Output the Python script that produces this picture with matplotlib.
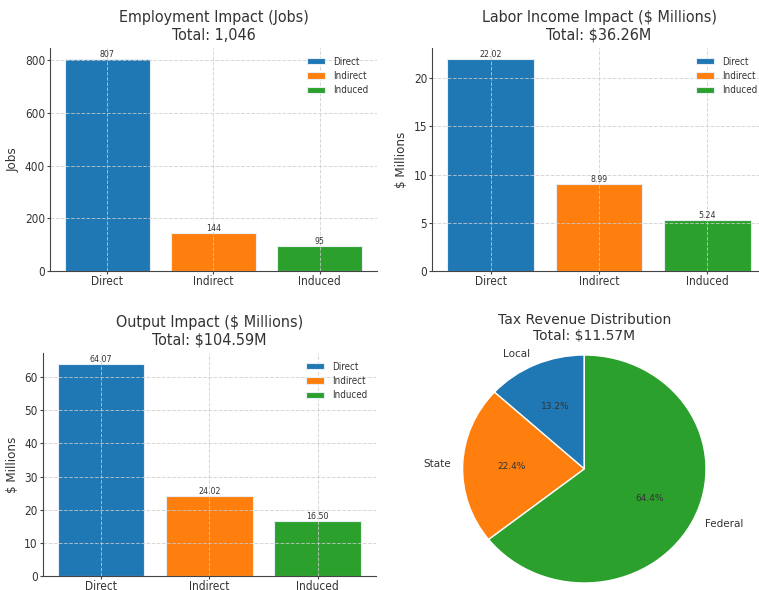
import matplotlib
matplotlib.use("Agg")
import matplotlib.pyplot as plt
from matplotlib import font_manager as fm
from matplotlib.font_manager import FontProperties

# ---------------- data ----------------
categories = ["Direct", "Indirect", "Induced"]
jobs = [807, 144, 95]
labor_income = [22.02, 8.99, 5.24]
output_impact = [64.07, 24.02, 16.50]
tax_labels = ["Local", "State", "Federal"]
tax_values = [1.53, 2.59, 7.45]

colors = ["#1f77b4", "#ff7f0e", "#2ca02c"]
TXT = "#333333"

# condensed font for bar panels if available
cond_path = None
for f in fm.fontManager.ttflist:
    base = f.fname.split("/")[-1]
    if base == "DejaVuSansCondensed.ttf":
        cond_path = f.fname
        break


def cf(size):
    if cond_path:
        return FontProperties(fname=cond_path, size=size)
    return FontProperties(family="DejaVu Sans", size=size * 0.9)


fig = plt.figure(figsize=(7.59, 5.9), dpi=100)
W, H = 759, 590


def px_axes(left, top, right, bottom):
    return fig.add_axes([left / W, 1 - bottom / H, (right - left) / W, (bottom - top) / H])


def bar_panel(ax, values, title, ylabel, fmt):
    bars = ax.bar(categories, values, color=colors, edgecolor="#e8eef5",
                  linewidth=0.8, label=categories)
    for b, v in zip(bars, values):
        ax.text(b.get_x() + b.get_width() / 2, b.get_height(), fmt(v),
                ha="center", va="bottom", fontproperties=cf(6.3), color=TXT)
    ax.set_title(title, fontproperties=cf(11.5), color=TXT, pad=6)
    ax.set_ylabel(ylabel, fontproperties=cf(9.5), color=TXT, labelpad=4)
    ax.grid(True, linestyle="--", color="#cccccc", linewidth=0.7, alpha=0.8)
    for s in ("top", "right"):
        ax.spines[s].set_visible(False)
    for s in ("left", "bottom"):
        ax.spines[s].set_color("#444444")
    ax.tick_params(colors="#444444", length=2)
    ax.tick_params(axis="x", pad=1)
    ax.tick_params(axis="y", pad=1.5)
    for lab in ax.get_xticklabels() + ax.get_yticklabels():
        lab.set_fontproperties(cf(8.5))
        lab.set_color(TXT)
    leg = ax.legend(frameon=False, loc="upper right", prop=cf(7),
                    handlelength=1.9, handleheight=0.62, labelspacing=0.43)
    for t in leg.get_texts():
        t.set_color(TXT)


ax1 = px_axes(50, 48, 377, 271)
bar_panel(ax1, jobs, "Employment Impact (Jobs)\nTotal: 1,046", "Jobs",
          lambda v: f"{v:,}")

ax2 = px_axes(432, 48, 766, 271)
bar_panel(ax2, labor_income, "Labor Income Impact ($ Millions)\nTotal: $36.26M",
          "$ Millions", lambda v: f"{v:.2f}")

ax3 = px_axes(42.6, 353, 376, 576)
bar_panel(ax3, output_impact, "Output Impact ($ Millions)\nTotal: $104.59M",
          "$ Millions", lambda v: f"{v:.2f}")

ax4 = px_axes(462.6, 355, 706, 583)
wedges, texts, autotexts = ax4.pie(
    tax_values, labels=tax_labels, colors=colors, autopct="%1.1f%%",
    startangle=90, wedgeprops=dict(edgecolor="white", linewidth=1),
    textprops=dict(fontsize=7.5, color=TXT))
for t in autotexts:
    t.set_fontsize(6.5)
ax4.set_aspect("auto")
ax4.set_xlim(-1, 1)
ax4.set_ylim(-1, 1)
ax4.set_title("Tax Revenue Distribution\nTotal: $11.57M", fontsize=10,
              color=TXT, pad=11)

fig.savefig("out.png", dpi=100)
